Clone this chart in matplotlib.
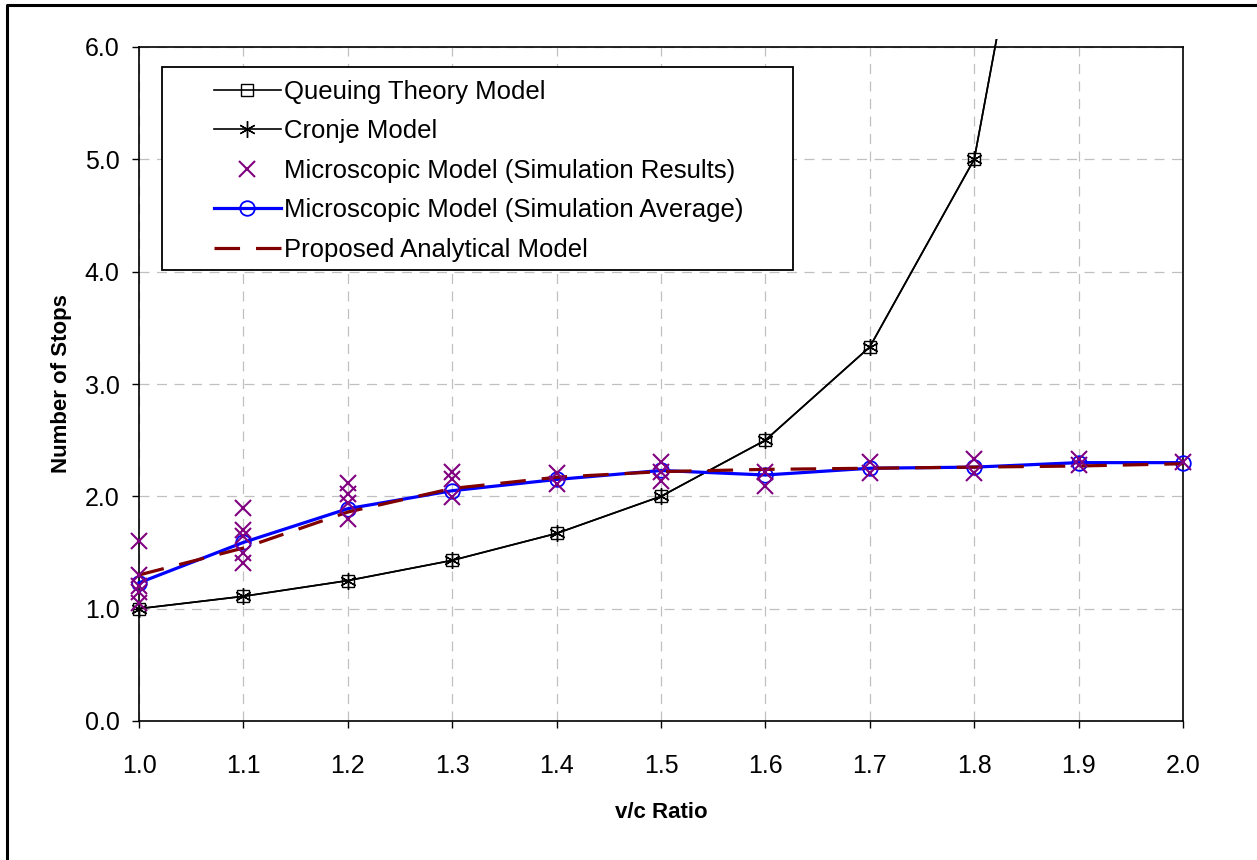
import matplotlib
matplotlib.use("Agg")
import matplotlib.pyplot as plt
from matplotlib.patches import Rectangle
from matplotlib.lines import Line2D
from matplotlib.ticker import FixedLocator, FormatStrFormatter

plt.rcParams['font.family'] = ['Liberation Sans', 'DejaVu Sans']

# ---- data ----
vc = [1.0, 1.1, 1.2, 1.3, 1.4, 1.5, 1.6, 1.7, 1.8, 1.9, 2.0]
theory_x = [1.0, 1.1, 1.2, 1.3, 1.4, 1.5, 1.6, 1.7, 1.8, 1.9]
queuing = [1.0, 1.11, 1.25, 1.43, 1.67, 2.0, 2.5, 3.33, 5.0, 10.0]
cronje = [1.0, 1.11, 1.25, 1.43, 1.67, 2.0, 2.5, 3.33, 5.0, 10.0]

sim_x = [1.0, 1.0, 1.0, 1.0, 1.0,
         1.1, 1.1, 1.1, 1.1, 1.1,
         1.2, 1.2, 1.2, 1.2,
         1.3, 1.3, 1.3,
         1.4, 1.4,
         1.5, 1.5, 1.5,
         1.6, 1.6,
         1.7, 1.7,
         1.8, 1.8,
         1.9, 1.9,
         2.0]
sim_y = [1.60, 1.30, 1.20, 1.15, 1.05,
         1.90, 1.70, 1.65, 1.50, 1.41,
         2.12, 2.02, 1.94, 1.80,
         2.22, 2.15, 1.99,
         2.21, 2.11,
         2.31, 2.22, 2.14,
         2.22, 2.09,
         2.31, 2.21,
         2.33, 2.21,
         2.33, 2.28,
         2.31]
sim_avg = [1.23, 1.59, 1.89, 2.05, 2.15, 2.23, 2.19, 2.25, 2.26, 2.30, 2.30]
proposed = [1.30, 1.54, 1.86, 2.07, 2.17, 2.22, 2.24, 2.25, 2.26, 2.27, 2.29]

labels = ["Queuing Theory Model", "Cronje Model",
          "Microscopic Model (Simulation Results)",
          "Microscopic Model (Simulation Average)",
          "Proposed Analytical Model"]
y_ticks = [0, 1, 2, 3, 4, 5, 6]

W, H = 1257, 860
fig = plt.figure(figsize=(W / 100, H / 100), dpi=100)
ax = fig.add_axes([139 / W, 1 - 721 / H, (1183 - 139) / W, (721 - 47) / H])

clip = Rectangle((-0.03, -0.03), 1.06, 1.042, transform=ax.transAxes, visible=False)
ax.add_patch(clip)

l1, = ax.plot(theory_x, queuing, color='black', lw=1.2, marker='s', ms=9,
              mfc='none', mec='black', mew=1.0, zorder=2)
l2, = ax.plot(theory_x, cronje, color='black', lw=1.2, marker=(6, 2, 0), ms=12,
              mec='black', mew=1.0, zorder=2)
l1.set_clip_path(clip)
l2.set_clip_path(clip)
l4, = ax.plot(vc, sim_avg, color='#0000FF', lw=2.3, marker='o', ms=10.5,
              mfc='none', mec='#0000FF', mew=1.3, zorder=3, clip_on=False)
l5, = ax.plot(vc, proposed, color='#800000', lw=2.3, dashes=(8, 5), zorder=4,
              clip_on=False)
l3, = ax.plot(sim_x, sim_y, ls='none', marker='x', ms=12, mec='#800080',
              mew=1.5, color='#800080', zorder=5, clip_on=False)

ax.set_xlim(1.0, 2.0)
ax.set_ylim(0, 6)
ax.xaxis.set_major_locator(FixedLocator(vc))
ax.yaxis.set_major_locator(FixedLocator(y_ticks))
ax.xaxis.set_major_formatter(FormatStrFormatter('%.1f'))
ax.yaxis.set_major_formatter(FormatStrFormatter('%.1f'))
ax.tick_params(axis='both', direction='out', length=5, width=1.0,
               labelsize=18, colors='black')
ax.tick_params(axis='x', pad=19)
ax.tick_params(axis='y', pad=9)
ax.grid(True, color='#c0c0c0', lw=0.9, ls=(0, (8, 6)), zorder=0)
ax.set_axisbelow(True)
for s in ax.spines.values():
    s.set_linewidth(1.2)
    s.set_color('black')

ax.set_xlabel('v/c Ratio', fontsize=16, fontweight='bold', labelpad=17)
ax.set_ylabel('Number of Stops', fontsize=16, fontweight='bold', labelpad=9)

# legend frame
frame = Rectangle((162 / W, 1 - 270 / H), (793 - 162) / W, (270 - 67) / H,
                  transform=fig.transFigure, facecolor='white', edgecolor='black',
                  lw=1.3, zorder=6, clip_on=False)
ax.add_patch(frame)
leg = ax.legend([l1, l2, l3, l4, l5], labels, loc='upper left',
                bbox_to_anchor=((214 - 139) / 1044, (721 - 80) / 674),
                frameon=False, fontsize=18.5, handlelength=2.6,
                handletextpad=0.12, labelspacing=0.6, borderpad=0,
                borderaxespad=0, numpoints=1)
leg.set_zorder(7)

# outer border (left and top)
fig.add_artist(Line2D([7 / W, 7 / W, 1.0], [0.0, 1 - 5 / H, 1 - 5 / H],
                      transform=fig.transFigure, color='black', lw=2.2))

fig.savefig('out.png', dpi=100)
